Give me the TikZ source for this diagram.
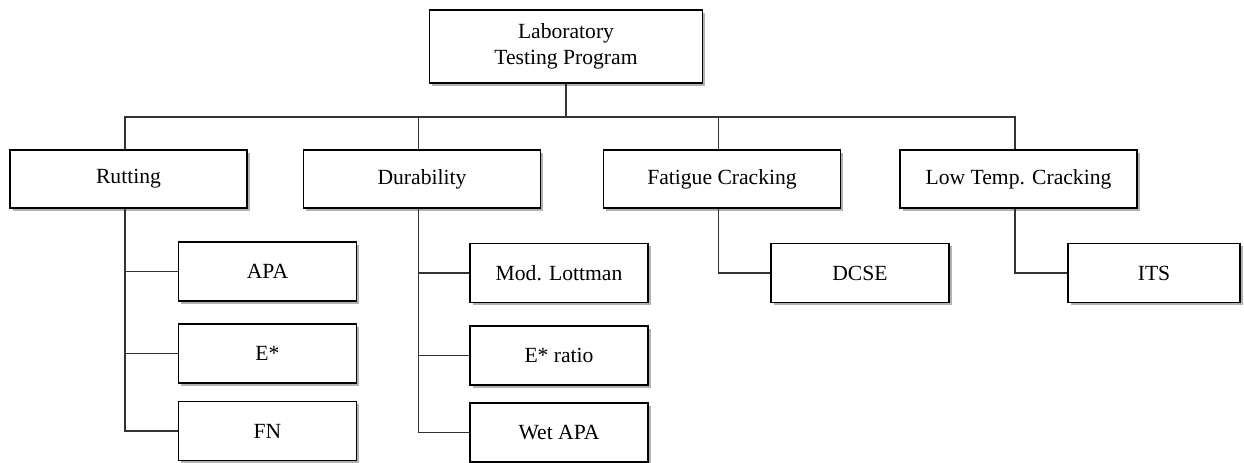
\documentclass[tikz,border=0pt]{standalone}
\usepackage{fontspec}
\setmainfont{Liberation Serif}
\usepackage{tikz}
\usetikzlibrary{shadows}

\begin{document}
\begin{tikzpicture}[x=0.02cm,y=-0.02cm,
  box/.style={draw=black,line width=0.8pt,fill=white,inner sep=0pt,align=center,
    font=\fontsize{12.3}{14.8}\selectfont,
    drop shadow={shadow xshift=1.6pt,shadow yshift=-1.6pt,opacity=0.3,fill=black}},
  topbox/.style={box,minimum width=5.46cm,minimum height=1.46cm},
  midbox/.style={box,minimum width=4.74cm,minimum height=1.16cm},
  testbox/.style={box,minimum width=3.56cm,minimum height=1.18cm},
  conn/.style={draw=black!80,line width=0.6pt}]
\useasboundingbox (0,0) rectangle (1244,463);

% top of the program
\node[topbox] (lab) at (566,46.5) {Laboratory\\Testing Program};

% the four groups
\node[midbox] (rut) at (128.5,179) {Rutting};
\node[midbox] (dur) at (422,179) {Durability};
\node[midbox] (fat) at (722,179) {Fatigue Cracking};
\node[midbox] (low) at (1018.5,179) {Low Temp. Cracking};

% tests
\node[testbox] (apa) at (267.5,271.5) {APA};
\node[testbox] (estar) at (267.5,353.5) {E*};
\node[testbox] (fn) at (267.5,431) {FN};
\node[testbox] (lott) at (559,273) {Mod. Lottman};
\node[testbox] (eratio) at (559,355.5) {E* ratio};
\node[testbox] (wapa) at (559,432.5) {Wet APA};
\node[testbox] (dcse) at (860,273) {DCSE};
\node[testbox,minimum width=3.44cm] (its) at (1154,273) {ITS};

% trunks sit a little left of the box middles
\coordinate (bus) at (566,117);
\foreach \g in {rut,dur,fat,low} {
  \coordinate (\g top) at ([xshift=-2pt]\g.north);
  \coordinate (\g bot) at ([xshift=-2pt]\g.south);
}

% connectors
\draw[conn] (lab.south) -- (bus);
\draw[conn] (ruttop) -- (ruttop |- bus) -- (lowtop |- bus) -- (lowtop);
\foreach \g in {dur,fat}
  \draw[conn] (\g top) -- (\g top |- bus);

\draw[conn] (rutbot) |- (fn.west);
\foreach \t in {apa,estar}
  \draw[conn] (rutbot |- \t.west) -- (\t.west);
\draw[conn] (durbot) |- (wapa.west);
\foreach \t in {lott,eratio}
  \draw[conn] (durbot |- \t.west) -- (\t.west);
\draw[conn] (fatbot) |- (dcse.west);
\draw[conn] (lowbot) |- (its.west);
\end{tikzpicture}
\end{document}
